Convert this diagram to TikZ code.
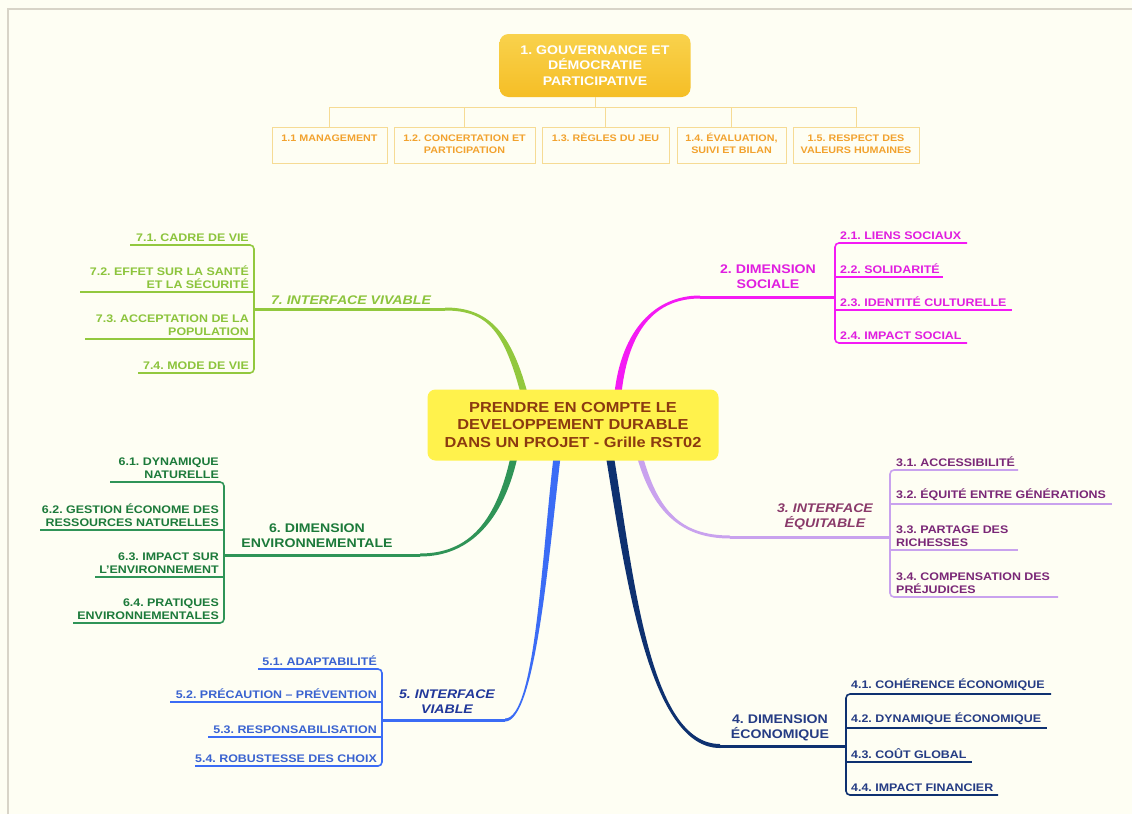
\documentclass[tikz,border=0pt]{standalone}
\usepackage{fontspec}
\setmainfont{Liberation Sans}[FakeStretch=1.13]
\usetikzlibrary{calc}
\frenchspacing
\definecolor{bg}{HTML}{FEFEF3}
\definecolor{framec}{HTML}{D8D4C8}
\definecolor{c7}{HTML}{92C83E}
\definecolor{t7}{HTML}{8CC43C}
\definecolor{c2}{HTML}{F41AF4}
\definecolor{t2}{HTML}{E01EE0}
\definecolor{c3}{HTML}{C9A2EE}
\definecolor{t3}{HTML}{7A2777}
\definecolor{l3}{HTML}{8A3A6A}
\definecolor{c4}{HTML}{0E3170}
\definecolor{t4}{HTML}{253C84}
\definecolor{c5}{HTML}{3B6CF5}
\definecolor{t5}{HTML}{3A63D0}
\definecolor{l5}{HTML}{20379A}
\definecolor{c6}{HTML}{2F9457}
\definecolor{t6}{HTML}{1C7A3A}
\definecolor{cyellow}{HTML}{FFF24C}
\definecolor{cbrown}{HTML}{8B3A10}
\definecolor{gtop}{HTML}{F9D24C}
\definecolor{gbot}{HTML}{F5BE26}
\definecolor{topline}{HTML}{F6DB94}
\definecolor{toptxt}{HTML}{F2A22E}
\newcommand\tbranch[7]{%
  \fill[#1] ($(#2)+(#6,0)$) .. controls ($(#3)+(#6,0)$) and ($(#4)+(0,#7)$) .. ($(#5)+(0,#7)$)
    -- ($(#5)-(0,#7)$) .. controls ($(#4)-(0,#7)$) and ($(#3)-(#6,0)$) .. ($(#2)-(#6,0)$) -- cycle;}
\begin{document}
\begin{tikzpicture}[x=1pt,y=-1pt,
  sub/.style={font=\fontsize{11}{13.5}\selectfont\bfseries, inner sep=0pt},
  subR/.style={sub, anchor=south west, align=left},
  subL/.style={sub, anchor=south east, align=right},
  lab/.style={font=\fontsize{12.5}{15}\selectfont\bfseries, inner sep=0pt, align=center},
  ilab/.style={font=\fontsize{12.5}{15}\selectfont\bfseries\itshape, inner sep=0pt, align=center},
  bracket/.style={line width=1.6pt, rounded corners=4pt},
  stem/.style={line width=3pt},
  tbox/.style={draw=topline, line width=1pt, fill=bg, minimum height=36pt, inner sep=0pt},
  ttxt/.style={font=\fontsize{9.5}{12}\selectfont\bfseries, text=toptxt, align=center, inner sep=0pt, anchor=north},
  tline/.style={draw=topline, line width=1pt},
]
\fill[bg] (0,0) rectangle (1132,814);
\useasboundingbox (0,0) rectangle (1132,814);
\draw[framec, line width=1.5pt] (8,814) -- (8,9) -- (1132,9);

% ---------- top block ----------
\node[top color=gtop, bottom color=gbot, rounded corners=9pt, minimum width=191pt, minimum height=63pt,
      text=white, font=\fontsize{12.5}{15.5}\selectfont\bfseries, align=center, inner sep=0pt] (G) at (595,65.5)
      {1. GOUVERNANCE ET\\DÉMOCRATIE\\PARTICIPATIVE};
\node[tbox, minimum width=115pt] (t11) at (329.5,145) {};
\node[tbox, minimum width=141pt] (t12) at (464.5,145) {};
\node[tbox, minimum width=127pt] (t13) at (605.5,145) {};
\node[tbox, minimum width=109pt] (t14) at (731.5,145) {};
\node[tbox, minimum width=126pt] (t15) at (856,145) {};
\foreach \b in {t11,t12,t13,t14,t15} \draw[tline] (G.south) -- ++(0,10) -| (\b.north);
\node[ttxt] (x11) at (329.5,133) {\vphantom{É}1.1 MANAGEMENT};
\node[ttxt] (x12) at (464.5,133) {\vphantom{É}1.2. CONCERTATION ET\\PARTICIPATION};
\node[ttxt] (x13) at (605.5,133) {\vphantom{É}1.3. RÈGLES DU JEU};
\node[ttxt] (x14) at (731.5,133) {\vphantom{É}1.4. ÉVALUATION,\\SUIVI ET BILAN};
\node[ttxt] (x15) at (856,133) {\vphantom{É}1.5. RESPECT DES\\VALEURS HUMAINES};

% ---------- branch coordinates ----------
\coordinate (s7) at (524,393); \coordinate (j7) at (445,309); \coordinate (b7) at (254,309);
\coordinate (s2) at (618,393); \coordinate (j2) at (700,297); \coordinate (b2) at (835,297);
\coordinate (s3) at (640,457); \coordinate (j3) at (730,537); \coordinate (b3) at (890,537);
\coordinate (s4) at (610,457); \coordinate (j4) at (720,746); \coordinate (b4) at (846,746);
\coordinate (s5) at (557,457); \coordinate (j5) at (505,720); \coordinate (b5) at (382,720);
\coordinate (s6) at (514,457); \coordinate (j6) at (420,555); \coordinate (b6) at (224,555);

% ---------- branch 7 ----------
\tbranch{c7}{s7}{507,330}{487,309}{j7}{-3.5}{1.5}
\draw[stem,c7] (j7) -- (b7);
\draw[bracket,c7] (130,245) -- (254,245) -- (254,373) -- (138,373);
\draw[bracket,c7] (80,292) -- (254,292);
\draw[bracket,c7] (85,339) -- (254,339);
\node[subL,text=t7] (n71) at (249,242) {7.1. CADRE DE VIE};
\node[subL,text=t7] (n72) at (249,289) {7.2. EFFET SUR LA SANTÉ\\ET LA SÉCURITÉ};
\node[subL,text=t7] (n73) at (249,336) {7.3. ACCEPTATION DE LA\\POPULATION};
\node[subL,text=t7] (n74) at (249,370) {7.4. MODE DE VIE};
\node[ilab,text=t7] (l7) at (351,300) {7. INTERFACE VIVABLE};

% ---------- branch 2 ----------
\tbranch{c2}{s2}{625,330}{655,297}{j2}{3.5}{1.5}
\draw[stem,c2] (j2) -- (b2);
\draw[bracket,c2] (967,243) -- (835,243) -- (835,343) -- (967,343);
\draw[bracket,c2] (835,277) -- (943,277);
\draw[bracket,c2] (835,310) -- (1012,310);
\node[subR,text=t2] (n21) at (840,240) {2.1. LIENS SOCIAUX};
\node[subR,text=t2] (n22) at (840,274) {2.2. SOLIDARITÉ};
\node[subR,text=t2] (n23) at (840,307) {2.3. IDENTITÉ CULTURELLE};
\node[subR,text=t2] (n24) at (840,340) {2.4. IMPACT SOCIAL};
\node[lab,text=t2] (l2) at (768,277) {2. DIMENSION\\SOCIALE};

% ---------- branch 3 ----------
\tbranch{c3}{s3}{655,510}{680,537}{j3}{3}{-1.5}
\draw[stem,c3] (j3) -- (b3);
\draw[bracket,c3] (1018,470) -- (890,470) -- (890,597) -- (1058,597);
\draw[bracket,c3] (890,504) -- (1112,504);
\draw[bracket,c3] (890,550) -- (1018,550);
\node[subR,text=t3] (n31) at (896,467) {3.1. ACCESSIBILITÉ};
\node[subR,text=t3] (n32) at (896,501) {3.2. ÉQUITÉ ENTRE GÉNÉRATIONS};
\node[subR,text=t3] (n33) at (896,547) {3.3. PARTAGE DES\\RICHESSES};
\node[subR,text=t3] (n34) at (896,594) {3.4. COMPENSATION DES\\PRÉJUDICES};
\node[ilab,text=l3] (l3) at (825,517) {3. INTERFACE\\ÉQUITABLE};

% ---------- branch 4 ----------
\tbranch{c4}{s4}{630,580}{650,746}{j4}{4}{-2}
\draw[stem,c4] (j4) -- (b4);
\draw[bracket,c4] (1051,694) -- (846,694) -- (846,795) -- (998,795);
\draw[bracket,c4] (846,728) -- (1047,728);
\draw[bracket,c4] (846,762) -- (972,762);
\node[subR,text=t4] (n41) at (851,691) {4.1. COHÉRENCE ÉCONOMIQUE};
\node[subR,text=t4] (n42) at (851,725) {4.2. DYNAMIQUE ÉCONOMIQUE};
\node[subR,text=t4] (n43) at (851,759) {4.3. COÛT GLOBAL};
\node[subR,text=t4] (n44) at (851,792) {4.4. IMPACT FINANCIER};
\node[lab,text=t4] (l4) at (780,728) {4. DIMENSION\\ÉCONOMIQUE};

% ---------- branch 5 ----------
\tbranch{c5}{s5}{545,560}{535,720}{j5}{-3.5}{-1.5}
\draw[stem,c5] (j5) -- (b5);
\draw[bracket,c5] (258,669) -- (382,669) -- (382,766) -- (195,766);
\draw[bracket,c5] (170,702) -- (382,702);
\draw[bracket,c5] (208,737) -- (382,737);
\node[subL,text=t5] (n51) at (377,666) {5.1. ADAPTABILITÉ};
\node[subL,text=t5] (n52) at (377,699) {5.2. PRÉCAUTION – PRÉVENTION};
\node[subL,text=t5] (n53) at (377,734) {5.3. RESPONSABILISATION};
\node[subL,text=t5] (n54) at (377,763) {5.4. ROBUSTESSE DES CHOIX};
\node[ilab,text=l5] (l5) at (447,702) {5. INTERFACE\\VIABLE};

% ---------- branch 6 ----------
\tbranch{c6}{s6}{500,520}{470,555}{j6}{-3.5}{-1.5}
\draw[stem,c6] (j6) -- (b6);
\draw[bracket,c6] (110,482) -- (224,482) -- (224,623) -- (73,623);
\draw[bracket,c6] (40,530) -- (224,530);
\draw[bracket,c6] (95,577) -- (224,577);
\node[subL,text=t6] (n61) at (219,479) {6.1. DYNAMIQUE\\NATURELLE};
\node[subL,text=t6] (n62) at (219,527) {6.2. GESTION ÉCONOME DES\\RESSOURCES NATURELLES};
\node[subL,text=t6] (n63) at (219,574) {6.3. IMPACT SUR\\L'ENVIRONNEMENT};
\node[subL,text=t6] (n64) at (219,620) {6.4. PRATIQUES\\ENVIRONNEMENTALES};
\node[lab,text=t6] (l6) at (317,536) {6. DIMENSION\\ENVIRONNEMENTALE};

% ---------- central node ----------
\node[fill=cyellow, rounded corners=8pt, minimum width=291pt, minimum height=71pt, text=cbrown,
      font=\fontsize{14.5}{17.5}\selectfont\bfseries, align=center, inner sep=0pt] (C) at (573,425)
      {PRENDRE EN COMPTE LE\\DEVELOPPEMENT DURABLE\\DANS UN PROJET - Grille RST02};
\end{tikzpicture}
\end{document}
